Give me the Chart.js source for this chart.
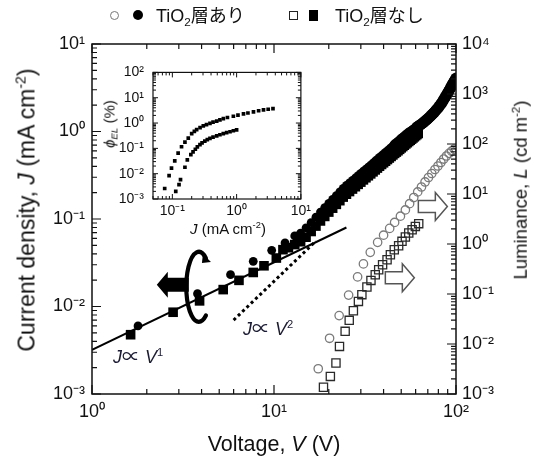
<!DOCTYPE html>
<html><head><meta charset="utf-8">
<script src="https://cdn.jsdelivr.net/npm/chart.js@4.4.1/dist/chart.umd.min.js"></script>
<style>
html,body{margin:0;padding:0;background:#fff;}
#wrap{position:relative;width:537px;height:458px;overflow:hidden;font-family:"Liberation Sans",Arial,"Noto Sans CJK JP",sans-serif;color:#111;}
canvas{position:absolute;}
#main{left:0;top:0;}
#inset{left:100px;top:55px;}
.t{position:absolute;white-space:nowrap;line-height:1;z-index:5;}
.rot{transform:translate(-50%,-50%) rotate(-90deg);}
.ctr{transform:translate(-50%,-50%);}
sup{font-size:0.62em;vertical-align:0.6em;line-height:0;}
sub{font-size:0.65em;vertical-align:-0.35em;line-height:0;}
.mk{position:absolute;box-sizing:border-box;z-index:5;}
</style></head>
<body><div id="wrap">
<canvas id="main" width="537" height="458"></canvas>
<canvas id="inset" width="215" height="190"></canvas>

<div class="mk" style="left:110px;top:11px;width:9px;height:9px;border:1.4px solid #777;border-radius:50%;"></div>
<div class="mk" style="left:133px;top:10px;width:10px;height:10px;background:#000;border-radius:50%;"></div>
<div class="t" style="left:156px;top:7px;font-size:18px;">TiO<sub>2</sub>層あり</div>
<div class="mk" style="left:289px;top:11px;width:9px;height:9px;border:1.4px solid #222;"></div>
<div class="mk" style="left:309px;top:10px;width:9px;height:11px;background:#000;"></div>
<div class="t" style="left:335px;top:7px;font-size:18px;">TiO<sub>2</sub>層なし</div>

<div class="t rot" style="left:27px;top:210px;font-size:23px;">Current density, <i>J</i> (mA cm<sup>-2</sup>)</div>
<div class="t ctr" style="left:274px;top:445px;font-size:21.5px;">Voltage, <i>V</i> (V)</div>
<div class="t rot" style="left:521px;top:190px;font-size:18.5px;">Luminance, <i>L</i> (cd m<sup>-2</sup>)</div>

<div class="t" style="left:113px;top:348px;font-size:18px;color:#1b1b33;"><i>J</i>∝ <i>V</i><sup>1</sup></div>
<div class="t" style="left:243px;top:320px;font-size:18px;color:#1b1b33;"><i>J</i>∝ <i>V</i><sup>2</sup></div>

<div class="t rot" style="left:109px;top:124px;font-size:15px;"><i>ϕ</i><sub><i>EL</i></sub> (%)</div>
<div class="t ctr" style="left:228px;top:228px;font-size:15px;"><i>J</i> (mA cm<sup>-2</sup>)</div>
</div>
<script>
// ---------------- data ----------------
// Current density, with TiO2 layer (filled circles)
const vJWith = [1.79, 3.8, 5.77, 7.69, 9.71, 11.5, 13, 14, 15, 16, 17, 18, 19, 20, 21, 22, 23, 24, 25, 26, 27, 28, 29, 30, 31, 32, 33, 34, 35, 36, 37, 38, 39, 40, 41, 42, 43, 44, 45, 46, 47, 48, 49, 50, 51, 52, 53, 54, 55, 56, 57, 58, 59, 60, 61, 62, 63, 64, 65, 66, 67, 68, 69, 70, 71, 72, 73, 74, 75, 76, 77, 78, 79, 80, 81, 82, 83, 84, 85, 86, 87, 88, 89, 90, 91, 92, 93, 94, 95, 96, 97, 98, 99, 100];
const jWith  = [0.006, 0.014, 0.0231, 0.0328, 0.0438, 0.0532, 0.064, 0.069, 0.079, 0.091, 0.105, 0.12, 0.135, 0.151, 0.168, 0.185, 0.204, 0.224, 0.242, 0.259, 0.276, 0.294, 0.313, 0.333, 0.352, 0.372, 0.392, 0.413, 0.435, 0.458, 0.481, 0.505, 0.528, 0.552, 0.576, 0.601, 0.627, 0.653, 0.68, 0.708, 0.734, 0.76, 0.79, 0.82, 0.848, 0.877, 0.907, 0.937, 0.963, 0.99, 1.015, 1.04, 1.065, 1.09, 1.12, 1.15, 1.175, 1.20, 1.23, 1.26, 1.295, 1.33, 1.365, 1.40, 1.44, 1.48, 1.525, 1.57, 1.615, 1.66, 1.715, 1.77, 1.825, 1.88, 1.95, 2.02, 2.09, 2.16, 2.26, 2.36, 2.45, 2.54, 2.645, 2.75, 2.87, 2.99, 3.11, 3.24, 3.375, 3.51, 3.645, 3.78, 3.92, 4.07];
// Current density, without TiO2 layer (filled squares)
const vJWithout = [1.63, 2.79, 3.9, 5.26, 6.42, 7.69, 8.81, 10.3, 11.2, 12, 13, 14, 15, 16, 17, 18, 19, 20, 21, 22, 23, 24, 25, 26, 27, 28, 29, 30, 31, 32, 33, 34, 35, 36, 37, 38, 39, 40, 41, 42, 43, 44, 45, 46, 47, 48, 49, 50, 51, 52, 53, 54, 55, 56, 57, 58, 59, 60, 61, 62];
const jWithout  = [0.00476, 0.0086, 0.0116, 0.0156, 0.0199, 0.0245, 0.0292, 0.0358, 0.0446, 0.047, 0.051, 0.055, 0.062, 0.072, 0.083, 0.095, 0.107, 0.12, 0.133, 0.147, 0.162, 0.178, 0.192, 0.206, 0.22, 0.234, 0.249, 0.264, 0.28, 0.296, 0.312, 0.328, 0.346, 0.364, 0.382, 0.401, 0.42, 0.439, 0.458, 0.478, 0.498, 0.519, 0.54, 0.562, 0.582, 0.603, 0.626, 0.65, 0.673, 0.697, 0.721, 0.745, 0.77, 0.794, 0.818, 0.843, 0.87, 0.897, 0.923, 0.95];
// Luminance, with TiO2 layer (open circles)
const vLWith = [17.5, 20.2, 22.8, 25.7, 28.8, 31.0, 33.8, 37.1, 40.0, 43.2, 46.0, 49.5, 52.7, 55.6, 58.6, 61.6, 64.6, 67.6, 70.6, 73.6, 76.6, 79.6, 82.6, 85.6, 88.6, 91.6, 94.6, 97.6];
const lWith  = [0.0032, 0.013, 0.037, 0.095, 0.22, 0.40, 0.68, 1.08, 1.5, 2.05, 2.7, 3.6, 4.8, 6.4, 8.5, 11, 13.8, 17.4, 21.4, 25.7, 30.9, 36.3, 42.7, 50, 57.5, 65, 72, 79];
// Luminance, without TiO2 layer (open squares)
const vLWithout = [18.7, 20.4, 21.9, 22.9, 24.6, 25.9, 27.3, 29.1, 30.4, 32.4, 34.1, 36.0, 37.6, 39.5, 41.8, 43.6, 45.8, 48.4, 50.5, 52.7, 55.0, 57.4, 59.8, 62.4];
const lWithout  = [0.00136, 0.00225, 0.00417, 0.00895, 0.0179, 0.0297, 0.0463, 0.0711, 0.097, 0.138, 0.187, 0.243, 0.306, 0.385, 0.485, 0.61, 0.77, 0.925, 1.13, 1.38, 1.66, 1.93, 2.25, 2.55];
// guide lines J ∝ V^1 and J ∝ V^2
const fit1V = [1, 25];   const fit1J = [0.0032, 0.08];
const fit2V = [6, 17];   const fit2J = [0.007, 0.056];
// inset: EL efficiency vs J
const inJWith   = [0.076, 0.089, 0.097, 0.109, 0.123, 0.139, 0.157, 0.177, 0.2, 0.22, 0.239, 0.27, 0.303, 0.34, 0.385, 0.43, 0.49, 0.55, 0.622, 0.72, 0.89, 1.05, 1.28, 1.5, 1.83, 2.2, 2.62, 3.1, 3.68];
const inPhiWith = [0.0026, 0.0084, 0.0167, 0.032, 0.065, 0.116, 0.177, 0.255, 0.381, 0.47, 0.551, 0.66, 0.775, 0.87, 0.975, 1.08, 1.19, 1.33, 1.49, 1.65, 1.86, 2.05, 2.29, 2.5, 2.78, 3.05, 3.3, 3.5, 3.69];
const inJWithout   = [0.113, 0.127, 0.134, 0.157, 0.171, 0.194, 0.21, 0.228, 0.245, 0.269, 0.29, 0.32, 0.35, 0.385, 0.43, 0.49, 0.55, 0.62, 0.7, 0.79, 0.89, 1.0];
const inPhiWithout = [0.0020, 0.0037, 0.0058, 0.018, 0.035, 0.0565, 0.073, 0.092, 0.115, 0.141, 0.165, 0.193, 0.22, 0.249, 0.28, 0.311, 0.345, 0.381, 0.415, 0.453, 0.495, 0.537];
// tick values / labels
const xTickVals = [1, 10, 100];                 const xTickLabels = ['10⁰', '10¹', '10²'];
const yTickVals = [1e-3, 1e-2, 1e-1, 1, 10];    const yTickLabels = ['10⁻³', '10⁻²', '10⁻¹', '10⁰', '10¹'];
const y2TickVals = [1e-3, 1e-2, 1e-1, 1, 10, 100, 1000, 10000];
const y2TickLabels = ['10⁻³', '10⁻²', '10⁻¹', '10⁰', '10¹', '10²', '10³', '10⁴'];
const inXTickVals = [0.1, 1, 10];               const inXTickLabels = ['10⁻¹', '10⁰', '10¹'];
const inYTickVals = [1e-3, 1e-2, 1e-1, 1, 10, 100];
const inYTickLabels = ['10⁻³', '10⁻²', '10⁻¹', '10⁰', '10¹', '10²'];

// ---------------- helpers ----------------
const zip = (xs, ys) => xs.map((x, i) => ({x, y: ys[i]}));
const FONT = 'Liberation Sans, Arial, sans-serif';

function frameTicks(id, sides, major, minor, tickW, frameW) {
  return {id, afterDraw(chart) {
    const {ctx, chartArea: a} = chart;
    ctx.save();
    ctx.strokeStyle = '#111';
    ctx.lineWidth = tickW;
    ctx.beginPath();
    for (const s of sides) {
      const sc = chart.scales[s.scale];
      const lo = Math.floor(Math.log10(sc.min) + 1e-9), hi = Math.ceil(Math.log10(sc.max) - 1e-9);
      for (let e = lo; e <= hi; e++) for (let m = 1; m < 10; m++) {
        const v = m * Math.pow(10, e);
        if (v < sc.min * 0.9999 || v > sc.max * 1.0001) continue;
        const p = sc.getPixelForValue(v);
        const L = m === 1 ? major : minor;
        if (s.side === 'left')   { ctx.moveTo(a.left, p);  ctx.lineTo(a.left + L, p); }
        if (s.side === 'right')  { ctx.moveTo(a.right, p); ctx.lineTo(a.right - L, p); }
        if (s.side === 'top')    { ctx.moveTo(p, a.top);   ctx.lineTo(p, a.top + L); }
        if (s.side === 'bottom') { ctx.moveTo(p, a.bottom); ctx.lineTo(p, a.bottom - L); }
      }
    }
    ctx.stroke();
    ctx.lineWidth = frameW;
    ctx.strokeRect(a.left, a.top, a.right - a.left, a.bottom - a.top);
    ctx.restore();
  }};
}

// annotation anchors in data space (arrows)
const annot = {
  leftArrow: {v: 2.27, j: 0.01775},
  rotArrow:  {v: 3.86, j: 0.0168},
  lumArrows: [{v: 62.1, l: 5.6}, {v: 40.9, l: 0.212}]
};

const arrowsPlugin = {id: 'arrows', afterDatasetsDraw(chart) {
  const {ctx, scales: {x, y, y2}} = chart;
  ctx.save();
  // filled left arrow
  let tx = x.getPixelForValue(annot.leftArrow.v), ty = y.getPixelForValue(annot.leftArrow.j);
  ctx.fillStyle = '#000';
  ctx.beginPath();
  ctx.moveTo(tx, ty); ctx.lineTo(tx + 11, ty - 13); ctx.lineTo(tx + 11, ty - 7);
  ctx.lineTo(tx + 32, ty - 7); ctx.lineTo(tx + 32, ty + 7); ctx.lineTo(tx + 11, ty + 7);
  ctx.lineTo(tx + 11, ty + 13); ctx.closePath(); ctx.fill();
  // rotation arrow (C shape)
  const cx = x.getPixelForValue(annot.rotArrow.v), cy = y.getPixelForValue(annot.rotArrow.j);
  ctx.strokeStyle = '#000'; ctx.lineWidth = 4.2; ctx.lineCap = 'round';
  ctx.beginPath();
  ctx.ellipse(cx, cy, 12.5, 35, 0, -55 * Math.PI / 180, 55 * Math.PI / 180, true);
  ctx.stroke();
  // small hook at top end
  const ex = cx + 12.5 * Math.cos(-55 * Math.PI / 180), ey = cy + 35 * Math.sin(-55 * Math.PI / 180);
  ctx.beginPath();
  ctx.moveTo(ex - 3, ey - 4); ctx.lineTo(ex + 5, ey + 4); ctx.lineTo(ex - 4, ey + 5); ctx.closePath(); ctx.fill();
  // hollow right arrows (luminance axis)
  ctx.fillStyle = '#fff'; ctx.strokeStyle = '#555'; ctx.lineWidth = 1.5; ctx.lineJoin = 'miter';
  for (const a of annot.lumArrows) {
    const x0 = x.getPixelForValue(a.v), yc = y2.getPixelForValue(a.l);
    ctx.beginPath();
    ctx.moveTo(x0, yc - 6); ctx.lineTo(x0 + 17, yc - 6); ctx.lineTo(x0 + 17, yc - 14);
    ctx.lineTo(x0 + 29, yc); ctx.lineTo(x0 + 17, yc + 14); ctx.lineTo(x0 + 17, yc + 6);
    ctx.lineTo(x0, yc + 6); ctx.closePath(); ctx.fill(); ctx.stroke();
  }
  ctx.restore();
}};

function logAxis(pos, min, max, vals, labels, size, pad, fitFn) {
  return {
    type: 'logarithmic', position: pos, min, max,
    grid: {display: false, drawTicks: false}, border: {display: false},
    afterBuildTicks: s => { s.ticks = vals.map(v => ({value: v})); },
    afterFit: fitFn,
    ticks: {autoSkip: false, maxRotation: 0, padding: pad, color: '#111',
      font: {family: FONT, size}, callback: (v, i) => labels[i]}
  };
}

// marker size grows slightly in the dense high-voltage part (matches the thick band)
const circleRadius = c => { const v = c.raw ? c.raw.x : 0; return v > 60 ? 5.6 : v > 45 ? 5.0 : 4.4; };

// ---------------- main chart ----------------
new Chart(document.getElementById('main'), {
  type: 'scatter',
  data: {datasets: [
    {label: 'J TiO2層あり', data: zip(vJWith, jWith), yAxisID: 'y', pointStyle: 'circle', pointRadius: circleRadius, backgroundColor: '#000', borderWidth: 0},
    {label: 'J TiO2層なし', data: zip(vJWithout, jWithout), yAxisID: 'y', pointStyle: 'rect', pointRadius: 6.8, backgroundColor: '#000', borderWidth: 0},
    {label: 'J ∝ V^1', data: zip(fit1V, fit1J), yAxisID: 'y', showLine: true, pointRadius: 0, borderColor: '#000', borderWidth: 2},
    {label: 'J ∝ V^2', data: zip(fit2V, fit2J), yAxisID: 'y', showLine: true, pointRadius: 0, borderColor: '#000', borderWidth: 3, borderDash: [3, 3]},
    {label: 'L TiO2層あり', data: zip(vLWith, lWith), yAxisID: 'y2', pointStyle: 'circle', pointRadius: 4.2, backgroundColor: 'rgba(0,0,0,0)', borderColor: '#7a7a7a', borderWidth: 1.3},
    {label: 'L TiO2層なし', data: zip(vLWithout, lWithout), yAxisID: 'y2', pointStyle: 'rect', pointRadius: 5.8, backgroundColor: 'rgba(0,0,0,0)', borderColor: '#2a2a2a', borderWidth: 1.3}
  ]},
  options: {
    responsive: false, animation: false, events: [],
    layout: {padding: {top: 44, left: 0, right: 0, bottom: 0}},
    plugins: {legend: {display: false}, tooltip: {enabled: false}},
    scales: {
      x: logAxis('bottom', 1, 100, xTickVals, xTickLabels, 18, 7, s => { s.height = 64; }),
      y: logAxis('left', 1e-3, 10, yTickVals, yTickLabels, 18, 7, s => { s.width = 92; }),
      y2: logAxis('right', 1e-3, 1e4, y2TickVals, y2TickLabels, 18, 6, s => { s.width = 81; })
    }
  },
  plugins: [arrowsPlugin, frameTicks('ft1', [{scale: 'x', side: 'bottom'}, {scale: 'x', side: 'top'}, {scale: 'y', side: 'left'}, {scale: 'y2', side: 'right'}], 9, 5, 1.2, 1.5)]
});

// ---------------- inset chart ----------------
new Chart(document.getElementById('inset'), {
  type: 'scatter',
  data: {datasets: [
    {label: 'φEL TiO2層あり', data: zip(inJWith, inPhiWith), pointStyle: 'rect', pointRadius: 2.6, backgroundColor: '#000', borderWidth: 0},
    {label: 'φEL TiO2層なし', data: zip(inJWithout, inPhiWithout), pointStyle: 'rect', pointRadius: 2.6, backgroundColor: '#000', borderWidth: 0}
  ]},
  options: {
    responsive: false, animation: false, events: [],
    layout: {padding: {top: 9, left: 0, right: 14, bottom: 0}},
    plugins: {legend: {display: false}, tooltip: {enabled: false}},
    scales: {
      x: logAxis('bottom', 0.05, 10, inXTickVals, inXTickLabels, 14, 4, s => { s.height = 46; }),
      y: logAxis('left', 1e-3, 100, inYTickVals, inYTickLabels, 14, 9, s => { s.width = 53; })
    }
  },
  plugins: [frameTicks('ft2', [{scale: 'x', side: 'bottom'}, {scale: 'x', side: 'top'}, {scale: 'y', side: 'left'}, {scale: 'y', side: 'right'}], 5, 3, 1, 1.2)]
});
</script>
</body></html>
